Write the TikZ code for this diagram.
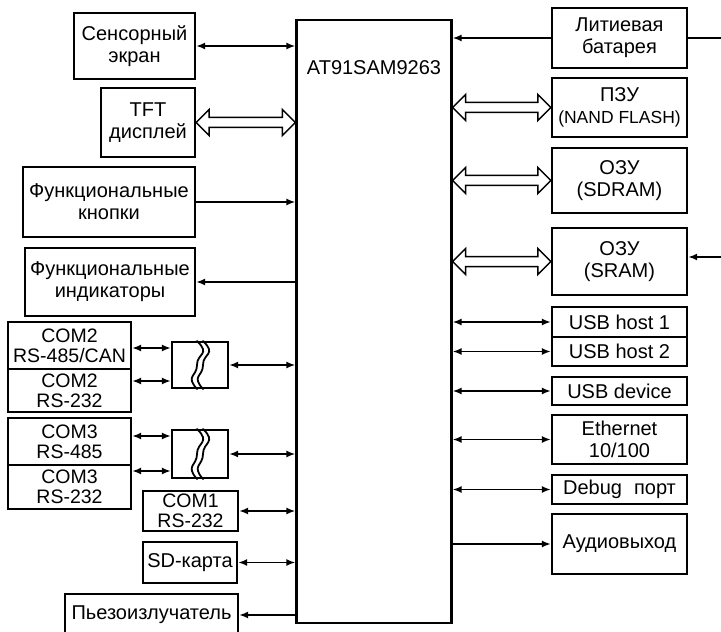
\documentclass[tikz,border=0pt]{standalone}
\usepackage{fontspec}
\setmainfont{Liberation Sans}
\usetikzlibrary{arrows.meta,calc}
\newcommand{\busarrow}[2]{\draw[bus] (#1) -- ++(13,-13) -- ++(0,8) -- ($(#2)+(-13,-5)$) -- ++(0,-8) -- (#2) -- ++(-13,13) -- ++(0,-8) -- ($(#1)+(13,5)$) -- ++(0,8) -- cycle;}
\begin{document}
\begin{tikzpicture}[x=1bp,y=-1bp,line cap=round,font=\fontsize{20bp}{22bp}\selectfont,
  box/.style={draw,line width=2.2bp,inner sep=1bp,align=center},
  combox/.style={box,font=\fontsize{19.5bp}{20bp}\selectfont},
  wire/.style={line width=1.8bp},
  biarrow/.style={wire,{Latex[length=9bp,width=7bp]}-{Latex[length=9bp,width=7bp]}},
  toarrow/.style={wire,-{Latex[length=9bp,width=7bp]}},
  bus/.style={line width=1.5bp,fill=white,line join=miter}]
  \useasboundingbox (0,0) rectangle (721,632);
  \node[box,minimum width=155bp,minimum height=603bp] (cpu) at (374,321.5) {};
  \node (cputitle) at (374,68) {AT91SAM9263};
  \node[box,minimum width=121bp,minimum height=66bp] (sens) at (134.5,46) {Сенсорный\\экран};
  \node[box,minimum width=94bp,minimum height=69bp] (tft) at (148,122.5) {TFT\\дисплей};
  \node[box,minimum width=172bp,minimum height=70bp] (knopki) at (109,202) {Функциональные\\кнопки};
  \node[box,minimum width=170bp,minimum height=68bp] (indik) at (110,282) {Функциональные\\индикаторы};
  \node[combox,minimum width=123bp,minimum height=47bp] (com2a) at (69.5,345.5) {COM2\\RS-485/CAN};
  \node[combox,minimum width=123bp,minimum height=43bp] (com2b) at (69.5,390.5) {COM2\\RS-232};
  \node[combox,minimum width=123bp,minimum height=47bp] (com3a) at (69.5,441.5) {COM3\\RS-485};
  \node[combox,minimum width=123bp,minimum height=44bp] (com3b) at (69.5,487) {COM3\\RS-232};
  \node[box,minimum width=56bp,minimum height=46bp] (mux2) at (200,365) {};
  \node[box,minimum width=56bp,minimum height=48bp] (mux3) at (200,454) {};
  \node[combox,minimum width=95bp,minimum height=40bp] (com1) at (190.5,511) {COM1\\RS-232};
  \node[box,minimum width=94bp,minimum height=41bp] (sd) at (190,562.5) {SD-карта};
  \node[box,minimum width=173bp,minimum height=42bp] (piezo) at (151.5,615) {Пьезоизлучатель};
  \node[box,minimum width=135bp,minimum height=60bp] (bat) at (619.5,38) {Литиевая\\батарея};
  \node[box,minimum width=135bp,minimum height=59bp] (pzu) at (619.5,107.5) {ПЗУ\\\fontsize{17.5bp}{20bp}\selectfont(NAND FLASH)};
  \node[box,minimum width=135bp,minimum height=65bp] (sdram) at (619.5,180.5) {ОЗУ\\(SDRAM)};
  \node[box,minimum width=135bp,minimum height=67bp] (sram) at (619.5,261.5) {ОЗУ\\(SRAM)};
  \node[box,minimum width=135bp,minimum height=30bp] (usb1) at (619.5,322) {USB host 1};
  \node[box,minimum width=135bp,minimum height=29bp] (usb2) at (619.5,351.5) {USB host 2};
  \node[box,minimum width=135bp,minimum height=28bp] (usbd) at (619.5,391) {USB device};
  \node[box,minimum width=135bp,minimum height=49bp] (eth) at (619.5,439.5) {Ethernet\\10/100};
  \node[box,minimum width=135bp,minimum height=29bp] (debug) at (619.5,489.5) {Debug\hspace{0.6em}порт};
  \node[box,minimum width=135bp,minimum height=60bp] (audio) at (619.5,544) {Аудиовыход};
  \coordinate (batin) at (721,38);
  \coordinate (sramin) at (721,257);
  \coordinate (p2a) at ([yshift=-2.5bp]com2a.east);
  \coordinate (p2b) at ([yshift=9.5bp]com2b.east);
  \coordinate (p3a) at ([yshift=5.5bp]com3a.east);
  \coordinate (p3b) at ([yshift=16bp]com3b.east);
  \coordinate (tftbus) at (tft.east -| cpu.west);
  \coordinate (pzubus) at (pzu.west -| cpu.east);
  \coordinate (sdrambus) at (sdram.west -| cpu.east);
  \coordinate (srambus) at (sram.west -| cpu.east);
  \foreach \m in {mux2,mux3}
    \foreach \d in {-3,3}
      \draw[wire] ([xshift=\d bp]\m.north) .. controls +(14,14) and +(0,-12) .. ([xshift=\d bp]\m.center) .. controls +(0,12) and +(-12,-14) .. ([xshift=\d bp]\m.south);
  \draw[biarrow] (sens.east) -- (sens.east -| cpu.west);
  \busarrow{tft.east}{tftbus}
  \draw[toarrow] (knopki.east) -- (knopki.east -| cpu.west);
  \draw[toarrow] (indik.east -| cpu.west) -- (indik.east);
  \draw[biarrow] (p2a) -- (p2a -| mux2.west);
  \draw[biarrow] (p2b) -- (p2b -| mux2.west);
  \draw[biarrow] (p3a) -- (p3a -| mux3.west);
  \draw[biarrow] (p3b) -- (p3b -| mux3.west);
  \draw[biarrow] (mux2.east) -- (mux2.east -| cpu.west);
  \draw[biarrow] (mux3.east) -- (mux3.east -| cpu.west);
  \draw[biarrow] (com1.east) -- (com1.east -| cpu.west);
  \draw[biarrow] (sd.east) -- (sd.east -| cpu.west);
  \draw[toarrow] (piezo.east -| cpu.west) -- (piezo.east);
  \draw[toarrow] (bat.west) -- (bat.west -| cpu.east);
  \draw[wire] (bat.east) -- (batin);
  \busarrow{pzubus}{pzu.west}
  \busarrow{sdrambus}{sdram.west}
  \busarrow{srambus}{sram.west}
  \draw[toarrow] (sramin) -- (sramin -| sram.east);
  \draw[biarrow] (cpu.east |- usb1.west) -- (usb1.west);
  \draw[biarrow] (cpu.east |- usb2.west) -- (usb2.west);
  \draw[biarrow] (cpu.east |- usbd.west) -- (usbd.west);
  \draw[biarrow] (cpu.east |- eth.west) -- (eth.west);
  \draw[biarrow] (cpu.east |- debug.west) -- (debug.west);
  \draw[toarrow] (cpu.east |- audio.west) -- (audio.west);
\end{tikzpicture}
\end{document}
